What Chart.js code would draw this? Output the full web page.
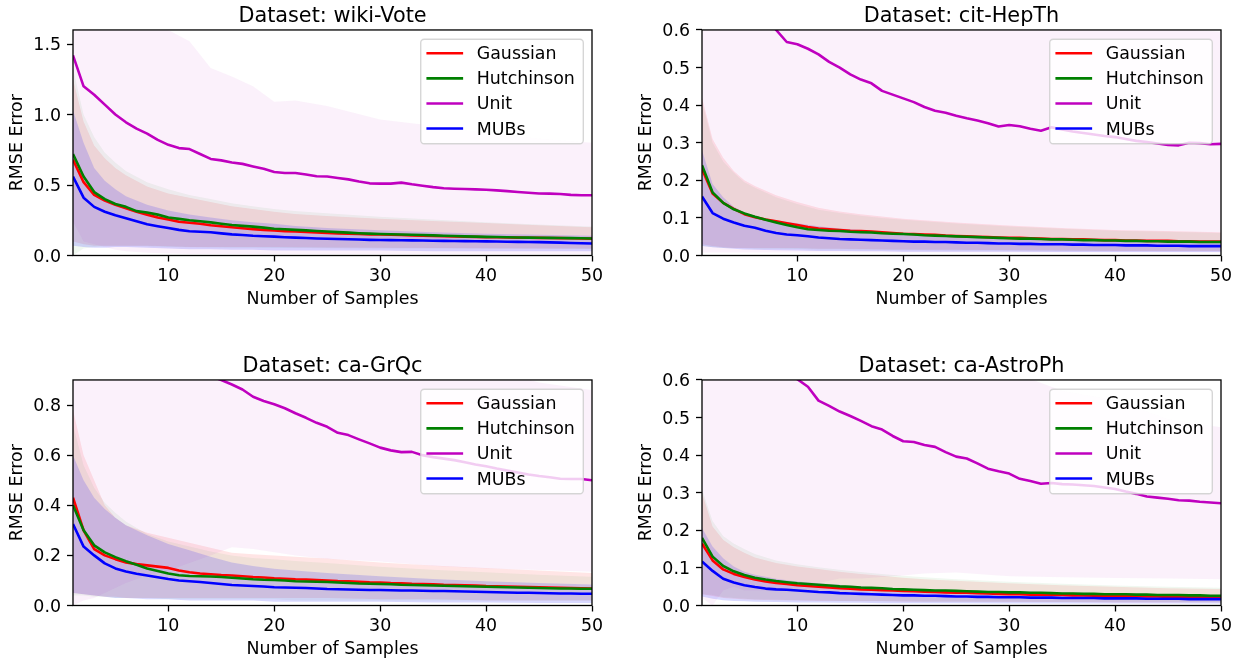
<!DOCTYPE html>
<html>
<head>
<meta charset="utf-8">
<script src="https://cdn.jsdelivr.net/npm/chart.js@4.4.1/dist/chart.umd.min.js"></script>
<style>
  body { margin: 0; background: #fff; width: 1245px; height: 662px; overflow: hidden; position: relative; }
  canvas { position: absolute; }
</style>
</head>
<body>
<canvas id="wikiVote" width="616" height="312" style="left:0;top:0"></canvas>
<canvas id="citHepTh" width="616" height="312" style="left:629px;top:0"></canvas>
<canvas id="caGrQc" width="616" height="312" style="left:0;top:350px"></canvas>
<canvas id="caAstroPh" width="616" height="312" style="left:629px;top:350px"></canvas>
<script>
// number of samples on the x axis
const SAMPLES = [1,2,3,4,5,6,7,8,9,10,11,12,13,14,15,16,17,18,19,20,21,22,23,24,25,
  26,27,28,29,30,31,32,33,34,35,36,37,38,39,40,41,42,43,44,45,46,47,48,49,50]
// samples where the spread bands were read
const BAND_X = [1,2,3,4,5,6,8,10,12,14,16,18,20,22,25,30,35,40,45,50]
const X_TICKS = [10, 20, 30, 40, 50]
const METHODS = ['Gaussian', 'Hutchinson', 'Unit', 'MUBs']

// --- wiki-Vote ---
const wikiVoteGaussian = [0.68,0.52,0.43,0.39,0.36,0.335,0.31,0.29,0.27,0.255,
  0.24,0.232,0.225,0.215,0.207,0.2,0.193,0.187,0.182,0.177,
  0.173,0.17,0.167,0.163,0.16,0.157,0.155,0.152,0.15,0.149,
  0.147,0.145,0.143,0.141,0.139,0.137,0.135,0.133,0.132,0.13,
  0.129,0.128,0.127,0.126,0.125,0.124,0.123,0.122,0.121,0.12]
const wikiVoteHutchinson = [0.72,0.56,0.45,0.4,0.365,0.345,0.315,0.305,0.29,0.27,
  0.26,0.25,0.243,0.235,0.225,0.216,0.21,0.205,0.198,0.19,
  0.186,0.182,0.178,0.174,0.17,0.166,0.162,0.158,0.155,0.153,
  0.151,0.149,0.147,0.145,0.143,0.14,0.138,0.136,0.134,0.132,
  0.131,0.13,0.128,0.127,0.126,0.125,0.124,0.123,0.122,0.121]
const wikiVoteUnit = [1.42,1.2,1.14,1.07,1.0,0.945,0.9,0.865,0.82,0.785,
  0.762,0.755,0.72,0.685,0.675,0.66,0.65,0.632,0.615,0.592,
  0.585,0.585,0.575,0.562,0.56,0.55,0.54,0.525,0.512,0.51,
  0.51,0.517,0.505,0.495,0.485,0.477,0.474,0.472,0.469,0.466,
  0.462,0.457,0.451,0.445,0.44,0.439,0.436,0.43,0.427,0.427]
const wikiVoteMUBs = [0.56,0.41,0.345,0.31,0.285,0.265,0.243,0.222,0.208,0.195,
  0.182,0.172,0.168,0.165,0.157,0.15,0.145,0.14,0.137,0.134,
  0.13,0.127,0.124,0.121,0.119,0.117,0.115,0.113,0.111,0.11,
  0.109,0.108,0.107,0.106,0.105,0.104,0.103,0.102,0.101,0.1,
  0.099,0.098,0.097,0.096,0.095,0.093,0.091,0.089,0.087,0.085]
const wikiVoteGaussianHi = [1.25,0.95,0.78,0.69,0.62,0.57,0.49,0.44,0.41,0.38,0.35,0.33,0.31,0.295,0.28,0.26,0.245,0.23,0.215,0.2]
const wikiVoteGaussianLo = [0.1,0.08,0.07,0.07,0.07,0.07,0.07,0.065,0.06,0.06,0.06,0.06,0.06,0.058,0.056,0.055,0.053,0.052,0.05,0.05]
const wikiVoteHutchinsonHi = [1.33,1.0,0.84,0.73,0.66,0.6,0.52,0.47,0.43,0.4,0.37,0.35,0.33,0.315,0.3,0.275,0.255,0.235,0.22,0.205]
const wikiVoteHutchinsonLo = [0.0,0.05,0.06,0.065,0.065,0.065,0.065,0.06,0.058,0.056,0.055,0.055,0.054,0.053,0.052,0.05,0.05,0.048,0.047,0.046]
const wikiVoteUnitHi = [2.6,2.3,2.15,2.0,1.9,1.82,1.7,1.6,1.52,1.33,1.27,1.2,1.09,1.1,1.06,0.965,0.92,0.87,0.83,0.8]
const wikiVoteUnitLo = [0.24,0.1,0.08,0.06,0.04,0.03,0.02,0.015,0.01,0.01,0.01,0.01,0.01,0.01,0.01,0.01,0.01,0.01,0.01,0.01]
const wikiVoteMUBsHi = [1.03,0.8,0.62,0.53,0.47,0.42,0.36,0.32,0.29,0.27,0.25,0.235,0.225,0.21,0.195,0.18,0.165,0.155,0.148,0.14]
const wikiVoteMUBsLo = [0.07,0.06,0.055,0.055,0.06,0.06,0.055,0.05,0.045,0.045,0.04,0.04,0.035,0.035,0.035,0.035,0.03,0.03,0.03,0.03]

// --- cit-HepTh ---
const citHepThGaussian = [0.23,0.165,0.14,0.124,0.11,0.102,0.096,0.091,0.086,0.081,
  0.076,0.072,0.07,0.068,0.066,0.065,0.064,0.062,0.06,0.058,
  0.057,0.056,0.055,0.053,0.052,0.051,0.05,0.049,0.048,0.047,
  0.047,0.046,0.045,0.044,0.044,0.043,0.043,0.042,0.041,0.041,
  0.04,0.04,0.039,0.039,0.039,0.038,0.038,0.037,0.037,0.037]
const citHepThHutchinson = [0.24,0.168,0.14,0.123,0.112,0.103,0.095,0.088,0.081,0.075,
  0.07,0.068,0.066,0.065,0.063,0.062,0.061,0.059,0.058,0.057,
  0.056,0.054,0.053,0.052,0.051,0.05,0.049,0.048,0.047,0.046,
  0.045,0.045,0.044,0.043,0.043,0.042,0.041,0.041,0.04,0.04,
  0.039,0.039,0.038,0.038,0.037,0.037,0.037,0.036,0.036,0.036]
const citHepThUnit = [1.3,1.05,0.9,0.8,0.73,0.68,0.635,0.6,0.568,0.562,
  0.55,0.535,0.515,0.5,0.482,0.468,0.458,0.438,0.428,0.418,
  0.408,0.395,0.385,0.38,0.372,0.365,0.359,0.352,0.343,0.347,
  0.344,0.337,0.332,0.341,0.335,0.33,0.326,0.322,0.318,0.315,
  0.31,0.305,0.302,0.298,0.294,0.293,0.3,0.299,0.296,0.297]
const citHepThMUBs = [0.157,0.113,0.098,0.088,0.079,0.074,0.066,0.06,0.056,0.054,
  0.051,0.048,0.046,0.044,0.043,0.042,0.041,0.04,0.039,0.038,
  0.037,0.037,0.036,0.036,0.035,0.034,0.034,0.033,0.032,0.032,
  0.031,0.031,0.03,0.03,0.03,0.029,0.029,0.028,0.028,0.028,
  0.027,0.027,0.027,0.026,0.026,0.026,0.025,0.025,0.025,0.025]
const citHepThGaussianHi = [0.42,0.31,0.26,0.225,0.2,0.185,0.16,0.142,0.127,0.117,0.11,0.104,0.098,0.094,0.088,0.08,0.073,0.068,0.065,0.062]
const citHepThGaussianLo = [0.03,0.025,0.022,0.02,0.02,0.02,0.02,0.02,0.018,0.018,0.017,0.016,0.016,0.015,0.015,0.014,0.013,0.012,0.012,0.012]
const citHepThHutchinsonHi = [0.41,0.3,0.25,0.22,0.195,0.18,0.155,0.137,0.122,0.113,0.106,0.1,0.095,0.091,0.085,0.077,0.071,0.066,0.063,0.06]
const citHepThHutchinsonLo = [0.025,0.022,0.02,0.02,0.019,0.018,0.018,0.017,0.016,0.016,0.015,0.015,0.014,0.014,0.013,0.013,0.012,0.012,0.011,0.011]
const citHepThUnitHi = [2.4,2.0,1.75,1.55,1.4,1.3,1.15,1.1,1.05,0.98,0.92,0.86,0.82,0.78,0.74,0.69,0.66,0.63,0.605,0.595]
const citHepThUnitLo = [0.008,0.008,0.008,0.008,0.008,0.008,0.008,0.008,0.008,0.008,0.008,0.008,0.008,0.008,0.008,0.008,0.008,0.008,0.008,0.008]
const citHepThMUBsHi = [0.28,0.19,0.155,0.13,0.115,0.105,0.094,0.086,0.078,0.072,0.068,0.064,0.06,0.057,0.054,0.05,0.046,0.043,0.041,0.039]
const citHepThMUBsLo = [0.025,0.022,0.02,0.018,0.016,0.015,0.014,0.013,0.012,0.012,0.011,0.011,0.01,0.01,0.01,0.01,0.009,0.009,0.009,0.009]

// --- ca-GrQc ---
const caGrQcGaussian = [0.43,0.3,0.225,0.2,0.185,0.172,0.165,0.16,0.155,0.15,
  0.14,0.133,0.128,0.125,0.122,0.12,0.117,0.114,0.112,0.109,
  0.107,0.105,0.104,0.102,0.1,0.098,0.097,0.095,0.093,0.092,
  0.09,0.089,0.087,0.086,0.085,0.083,0.082,0.081,0.08,0.078,
  0.077,0.076,0.075,0.074,0.073,0.072,0.071,0.07,0.069,0.068]
const caGrQcHutchinson = [0.4,0.3,0.24,0.212,0.193,0.177,0.163,0.148,0.138,0.128,
  0.121,0.118,0.117,0.116,0.114,0.111,0.108,0.105,0.103,0.102,
  0.1,0.097,0.096,0.095,0.094,0.092,0.09,0.088,0.087,0.086,
  0.085,0.083,0.082,0.081,0.08,0.079,0.078,0.077,0.076,0.075,
  0.074,0.073,0.072,0.071,0.07,0.069,0.068,0.068,0.067,0.067]
const caGrQcUnit = [2.1,1.75,1.55,1.42,1.32,1.24,1.17,1.11,1.06,1.02,
  0.99,0.96,0.935,0.915,0.9,0.882,0.862,0.833,0.816,0.803,
  0.787,0.767,0.749,0.729,0.713,0.689,0.68,0.663,0.647,0.63,
  0.619,0.612,0.613,0.6,0.592,0.586,0.58,0.572,0.563,0.556,
  0.547,0.539,0.531,0.523,0.517,0.512,0.506,0.505,0.505,0.5]
const caGrQcMUBs = [0.325,0.235,0.2,0.168,0.148,0.136,0.127,0.12,0.113,0.106,
  0.1,0.097,0.094,0.09,0.086,0.082,0.08,0.078,0.076,0.073,
  0.072,0.071,0.07,0.068,0.066,0.065,0.064,0.063,0.062,0.062,
  0.061,0.06,0.06,0.059,0.058,0.058,0.057,0.056,0.055,0.054,
  0.053,0.052,0.051,0.051,0.05,0.049,0.048,0.048,0.047,0.047]
const caGrQcGaussianHi = [0.78,0.6,0.5,0.4,0.35,0.32,0.29,0.27,0.25,0.23,0.21,0.205,0.2,0.195,0.188,0.172,0.16,0.15,0.14,0.13]
const caGrQcGaussianLo = [0.05,0.045,0.04,0.035,0.035,0.03,0.03,0.03,0.03,0.03,0.03,0.03,0.03,0.03,0.03,0.025,0.025,0.02,0.02,0.02]
const caGrQcHutchinsonHi = [0.72,0.56,0.47,0.41,0.37,0.335,0.285,0.255,0.235,0.215,0.2,0.19,0.185,0.178,0.17,0.155,0.143,0.133,0.123,0.115]
const caGrQcHutchinsonLo = [0.04,0.04,0.035,0.035,0.03,0.03,0.03,0.025,0.025,0.025,0.025,0.025,0.025,0.02,0.02,0.02,0.02,0.02,0.02,0.02]
const caGrQcUnitHi = [4.2,3.4,3.0,2.7,2.5,2.35,2.1,1.9,1.74,1.62,1.53,1.44,1.38,1.32,1.23,1.08,1.0,0.95,0.89,0.86]
const caGrQcUnitLo = [0.0,0.02,0.03,0.05,0.07,0.09,0.12,0.14,0.17,0.2,0.232,0.225,0.212,0.2,0.186,0.176,0.158,0.148,0.142,0.135]
const caGrQcMUBsHi = [0.6,0.5,0.43,0.385,0.35,0.32,0.28,0.245,0.22,0.195,0.172,0.158,0.147,0.14,0.13,0.117,0.106,0.097,0.09,0.084]
const caGrQcMUBsLo = [0.05,0.045,0.04,0.035,0.03,0.03,0.025,0.025,0.02,0.02,0.02,0.02,0.015,0.015,0.015,0.015,0.012,0.012,0.01,0.01]

// --- ca-AstroPh ---
const caAstroPhGaussian = [0.165,0.12,0.096,0.084,0.076,0.069,0.064,0.06,0.057,0.054,
  0.052,0.05,0.048,0.046,0.045,0.043,0.042,0.041,0.04,0.039,
  0.038,0.037,0.036,0.035,0.034,0.034,0.033,0.032,0.031,0.03,
  0.03,0.029,0.029,0.028,0.028,0.027,0.027,0.026,0.026,0.025,
  0.025,0.025,0.024,0.024,0.023,0.023,0.023,0.022,0.022,0.022]
const caAstroPhHutchinson = [0.18,0.13,0.105,0.091,0.081,0.074,0.069,0.065,0.062,0.059,
  0.057,0.055,0.053,0.051,0.05,0.048,0.047,0.046,0.044,0.043,
  0.042,0.041,0.04,0.04,0.039,0.038,0.037,0.036,0.036,0.035,
  0.035,0.034,0.034,0.033,0.032,0.032,0.031,0.031,0.03,0.03,
  0.03,0.029,0.029,0.028,0.028,0.028,0.027,0.027,0.026,0.026]
const caAstroPhUnit = [1.5,1.2,1.02,0.9,0.82,0.76,0.71,0.67,0.635,0.602,
  0.582,0.545,0.531,0.516,0.504,0.491,0.477,0.468,0.451,0.437,
  0.435,0.427,0.422,0.408,0.396,0.391,0.378,0.364,0.357,0.351,
  0.337,0.331,0.324,0.326,0.323,0.322,0.32,0.318,0.314,0.31,
  0.303,0.297,0.29,0.287,0.284,0.28,0.279,0.276,0.274,0.272]
const caAstroPhMUBs = [0.117,0.092,0.071,0.061,0.054,0.049,0.045,0.043,0.042,0.04,
  0.038,0.036,0.035,0.033,0.032,0.031,0.03,0.029,0.028,0.027,
  0.027,0.026,0.026,0.025,0.024,0.024,0.023,0.023,0.022,0.022,
  0.022,0.021,0.021,0.021,0.02,0.02,0.02,0.02,0.019,0.019,
  0.019,0.019,0.018,0.018,0.018,0.018,0.017,0.017,0.017,0.017]
const caAstroPhGaussianHi = [0.3,0.21,0.175,0.155,0.14,0.128,0.113,0.104,0.097,0.09,0.084,0.079,0.074,0.07,0.066,0.059,0.054,0.05,0.046,0.044]
const caAstroPhGaussianLo = [0.03,0.025,0.02,0.018,0.016,0.015,0.014,0.013,0.012,0.012,0.011,0.011,0.01,0.01,0.01,0.009,0.009,0.008,0.008,0.008]
const caAstroPhHutchinsonHi = [0.31,0.225,0.185,0.165,0.15,0.137,0.12,0.11,0.102,0.095,0.089,0.084,0.079,0.075,0.07,0.063,0.058,0.053,0.05,0.047]
const caAstroPhHutchinsonLo = [0.03,0.028,0.022,0.02,0.018,0.016,0.015,0.014,0.013,0.012,0.012,0.011,0.011,0.01,0.01,0.01,0.009,0.009,0.009,0.009]
const caAstroPhUnitHi = [2.98,2.4,2.0,1.75,1.6,1.48,1.3,1.16,1.03,0.96,0.91,0.86,0.794,0.769,0.704,0.624,0.571,0.547,0.496,0.474]
const caAstroPhUnitLo = [0.02,0.0,0.04,0.05,0.04,0.04,0.04,0.044,0.06,0.072,0.072,0.076,0.08,0.085,0.088,0.078,0.075,0.073,0.072,0.07]
const caAstroPhMUBsHi = [0.206,0.157,0.126,0.104,0.09,0.082,0.071,0.064,0.059,0.055,0.051,0.048,0.046,0.044,0.041,0.038,0.035,0.032,0.03,0.028]
const caAstroPhMUBsLo = [0.024,0.018,0.014,0.012,0.011,0.01,0.009,0.008,0.008,0.007,0.007,0.006,0.006,0.006,0.006,0.005,0.005,0.005,0.005,0.005]

const LINE_COLORS = ['#ff0000', '#008000', '#bf00bf', '#0000ff']
const BAND_COLORS = ['rgba(255,0,0,0.10)', 'rgba(0,128,0,0.06)', 'rgba(191,0,191,0.055)', 'rgba(0,0,255,0.15)']

Chart.defaults.font.family = '"DejaVu Sans", sans-serif'
Chart.defaults.font.size = 17.4
Chart.defaults.color = '#000'

function pts(xs, ys) {
    return xs.map((x, i) => ({ x: x, y: ys[i] }))
}

// box around the axes plus the legend in the upper right corner
const frameAndLegend = {
    id: 'frameAndLegend',
    afterDatasetsDraw(chart) {
        const { ctx, chartArea } = chart
        ctx.save()
        ctx.strokeStyle = '#000'
        ctx.lineWidth = 1.3
        ctx.strokeRect(chartArea.left, chartArea.top, chartArea.right - chartArea.left, chartArea.bottom - chartArea.top)

        ctx.font = '17.4px "DejaVu Sans"'
        let textW = 0
        for (const m of METHODS) textW = Math.max(textW, ctx.measureText(m).width)
        const w = 56 + textW + 8.5
        const h = 104.5
        const x = chartArea.right - 8.7 - w
        const y = chartArea.top + 9.3
        const r = 3.5
        ctx.beginPath()
        ctx.moveTo(x + r, y)
        ctx.arcTo(x + w, y, x + w, y + h, r)
        ctx.arcTo(x + w, y + h, x, y + h, r)
        ctx.arcTo(x, y + h, x, y, r)
        ctx.arcTo(x, y, x + w, y, r)
        ctx.closePath()
        ctx.fillStyle = 'rgba(255,255,255,0.8)'
        ctx.fill()
        ctx.strokeStyle = 'rgba(204,204,204,0.8)'
        ctx.lineWidth = 1.4
        ctx.stroke()

        METHODS.forEach((m, i) => {
            const ry = y + 14 + i * 25.1
            ctx.strokeStyle = LINE_COLORS[i]
            ctx.lineWidth = 2.6
            ctx.beginPath()
            ctx.moveTo(x + 5.7, ry)
            ctx.lineTo(x + 42.4, ry)
            ctx.stroke()
            ctx.fillStyle = '#000'
            ctx.textBaseline = 'middle'
            ctx.textAlign = 'left'
            ctx.fillText(m, x + 56, ry + 1.5)
        })
        ctx.restore()
    }
}

function makeChart(canvasId, title, yMax, yTicks, means, los, his) {
    let datasets = []
    // mean lines: MUBs on top, Gaussian at the bottom
    for (let i = 0; i < 4; i++) {
        datasets.push({
            label: METHODS[i],
            data: pts(SAMPLES, means[i]),
            borderColor: LINE_COLORS[i],
            borderWidth: 2.6,
            borderJoinStyle: 'round',
            pointRadius: 0,
            fill: false,
            order: 3 - i
        })
    }
    // spread bands, drawn below every line
    for (let i = 0; i < 4; i++) {
        datasets.push({
            label: METHODS[i] + ' low',
            data: pts(BAND_X, los[i]),
            borderWidth: 0,
            borderColor: 'transparent',
            pointRadius: 0,
            fill: false,
            order: 13 - i
        })
        datasets.push({
            label: METHODS[i] + ' high',
            data: pts(BAND_X, his[i]),
            borderWidth: 0,
            borderColor: 'transparent',
            backgroundColor: BAND_COLORS[i],
            pointRadius: 0,
            fill: '-1',
            order: 13 - i
        })
    }

    const grid = { drawOnChartArea: false, color: '#000', tickLength: 6, tickWidth: 1.3 }

    new Chart(document.getElementById(canvasId), {
        type: 'line',
        data: { datasets: datasets },
        options: {
            responsive: false,
            animation: false,
            events: [],
            layout: { padding: { left: 0, right: 24, top: 0, bottom: 2 } },
            plugins: {
                legend: { display: false },
                tooltip: { enabled: false },
                title: {
                    display: true,
                    text: title,
                    color: '#000',
                    fullSize: false,
                    font: { size: 20.8, weight: 'normal', lineHeight: 1.2 },
                    padding: { top: 4, bottom: 1 }
                }
            },
            scales: {
                x: {
                    type: 'linear',
                    min: 1,
                    max: 50,
                    afterBuildTicks: scale => { scale.ticks = X_TICKS.map(v => ({ value: v })) },
                    afterFit: scale => { scale.height = 54.5 },
                    grid: grid,
                    border: { display: false },
                    ticks: { color: '#000', padding: 5, maxRotation: 0, autoSkip: false },
                    title: { display: true, text: 'Number of Samples', color: '#000', padding: 0 }
                },
                y: {
                    min: 0,
                    max: yMax,
                    afterBuildTicks: scale => { scale.ticks = yTicks.map(v => ({ value: v })) },
                    afterFit: scale => { scale.width = 73 },
                    grid: grid,
                    border: { display: false },
                    ticks: { color: '#000', padding: 6, labelOffset: 1.5, callback: v => v.toFixed(1) },
                    title: { display: true, text: 'RMSE Error', color: '#000', padding: { top: 7.5, bottom: 0 } }
                }
            }
        },
        plugins: [frameAndLegend]
    })
}

makeChart('wikiVote', 'Dataset: wiki-Vote', 1.6, [0, 0.5, 1.0, 1.5],
    [wikiVoteGaussian, wikiVoteHutchinson, wikiVoteUnit, wikiVoteMUBs],
    [wikiVoteGaussianLo, wikiVoteHutchinsonLo, wikiVoteUnitLo, wikiVoteMUBsLo],
    [wikiVoteGaussianHi, wikiVoteHutchinsonHi, wikiVoteUnitHi, wikiVoteMUBsHi])

makeChart('citHepTh', 'Dataset: cit-HepTh', 0.6, [0, 0.1, 0.2, 0.3, 0.4, 0.5, 0.6],
    [citHepThGaussian, citHepThHutchinson, citHepThUnit, citHepThMUBs],
    [citHepThGaussianLo, citHepThHutchinsonLo, citHepThUnitLo, citHepThMUBsLo],
    [citHepThGaussianHi, citHepThHutchinsonHi, citHepThUnitHi, citHepThMUBsHi])

makeChart('caGrQc', 'Dataset: ca-GrQc', 0.9, [0, 0.2, 0.4, 0.6, 0.8],
    [caGrQcGaussian, caGrQcHutchinson, caGrQcUnit, caGrQcMUBs],
    [caGrQcGaussianLo, caGrQcHutchinsonLo, caGrQcUnitLo, caGrQcMUBsLo],
    [caGrQcGaussianHi, caGrQcHutchinsonHi, caGrQcUnitHi, caGrQcMUBsHi])

makeChart('caAstroPh', 'Dataset: ca-AstroPh', 0.6, [0, 0.1, 0.2, 0.3, 0.4, 0.5, 0.6],
    [caAstroPhGaussian, caAstroPhHutchinson, caAstroPhUnit, caAstroPhMUBs],
    [caAstroPhGaussianLo, caAstroPhHutchinsonLo, caAstroPhUnitLo, caAstroPhMUBsLo],
    [caAstroPhGaussianHi, caAstroPhHutchinsonHi, caAstroPhUnitHi, caAstroPhMUBsHi])
</script>
</body>
</html>
